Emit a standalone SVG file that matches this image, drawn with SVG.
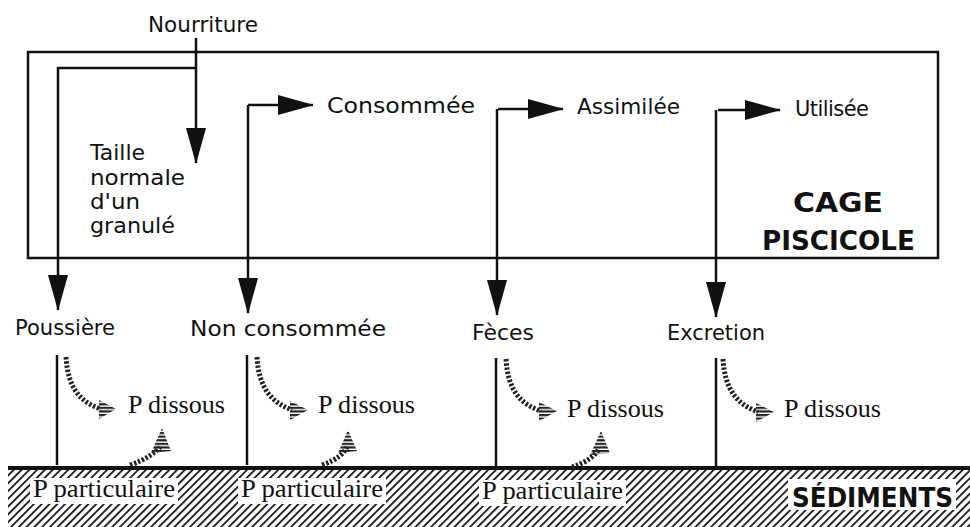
<svg xmlns="http://www.w3.org/2000/svg" width="970" height="527" viewBox="0 0 970 527">
<style>
.t{font-family:"DejaVu Sans","Liberation Sans",sans-serif;font-size:21px;fill:#111}
.b{font-family:"DejaVu Sans","Liberation Sans",sans-serif;font-weight:bold;font-size:26px;fill:#111}
.s{font-family:"Liberation Serif","Times New Roman",serif;font-size:25px;fill:#111}
.ln{stroke:#111;stroke-width:2.5;fill:none}
.ar{stroke:#111;stroke-width:2.5;fill:none;marker-end:url(#ah)}
.dl{stroke:#222;stroke-width:5;stroke-dasharray:2.4 1.8;fill:none}
.dh{fill:url(#stripes)}
</style>
<defs>
<marker id="ah" markerUnits="userSpaceOnUse" viewBox="0 0 36 20" refX="35" refY="10" markerWidth="36" markerHeight="20" orient="auto">
<path d="M0,0 L36,10 L0,20 z" fill="#111"/>
</marker>
<pattern id="stripes" patternUnits="userSpaceOnUse" width="10" height="3.6">
<rect x="0" y="0" width="10" height="2.2" fill="#222"/>
</pattern>
<pattern id="hatch" patternUnits="userSpaceOnUse" width="5.5" height="10" patternTransform="rotate(45)">
<rect x="0" y="0" width="1.9" height="10" fill="#222"/>
</pattern>
</defs>
<rect width="970" height="527" fill="#fff"/>

<g id="sediments">
<rect x="8" y="470" width="962" height="57" fill="url(#hatch)"/>
<line x1="8" y1="468" x2="970" y2="468" stroke="#111" stroke-width="4"/>
<rect x="30" y="478" width="148" height="26" fill="#fff"/>
<rect x="238" y="478" width="148" height="26" fill="#fff"/>
<rect x="479" y="480" width="147" height="26" fill="#fff"/>
<rect x="788" y="479" width="168" height="31" fill="#fff"/>
<text class="s" x="33" y="497" textLength="142" lengthAdjust="spacingAndGlyphs">P particulaire</text>
<text class="s" x="241" y="497" textLength="142" lengthAdjust="spacingAndGlyphs">P particulaire</text>
<text class="s" x="482" y="499" textLength="141" lengthAdjust="spacingAndGlyphs">P particulaire</text>
<text class="b" x="792" y="507" textLength="161" lengthAdjust="spacingAndGlyphs">SÉDIMENTS</text>
</g>

<g id="cage">
<rect x="28" y="52" width="910" height="206" fill="none" stroke="#111" stroke-width="2.5"/>
<text class="b" x="793" y="212" textLength="90" lengthAdjust="spacingAndGlyphs">CAGE</text>
<text class="b" x="762" y="250" textLength="153" lengthAdjust="spacingAndGlyphs">PISCICOLE</text>
</g>

<g id="nourriture"><text class="t" x="148" y="32" textLength="110" lengthAdjust="spacingAndGlyphs">Nourriture</text></g>
<g id="taille">
<text class="t" x="90" y="160" textLength="55" lengthAdjust="spacingAndGlyphs">Taille</text>
<text class="t" x="90" y="185" textLength="95" lengthAdjust="spacingAndGlyphs">normale</text>
<text class="t" x="90" y="209" textLength="50" lengthAdjust="spacingAndGlyphs">d'un</text>
<text class="t" x="90" y="233" textLength="85" lengthAdjust="spacingAndGlyphs">granulé</text>
</g>
<g id="consommee"><text class="t" x="327" y="113" textLength="148" lengthAdjust="spacingAndGlyphs">Consommée</text></g>
<g id="assimilee"><text class="t" x="577" y="114" textLength="103" lengthAdjust="spacingAndGlyphs">Assimilée</text></g>
<g id="utilisee"><text class="t" x="795" y="116" textLength="74" lengthAdjust="spacing">Utilisée</text></g>
<g id="poussiere"><text class="t" x="15" y="335" textLength="100" lengthAdjust="spacingAndGlyphs">Poussière</text></g>
<g id="nonconsommee"><text class="t" x="190" y="336" textLength="196" lengthAdjust="spacingAndGlyphs">Non consommée</text></g>
<g id="feces"><text class="t" x="472" y="340" textLength="62" lengthAdjust="spacingAndGlyphs">Fèces</text></g>
<g id="excretion"><text class="t" x="667" y="340" textLength="98" lengthAdjust="spacingAndGlyphs">Excretion</text></g>
<g id="pdissous">
<text class="s" x="128" y="413" textLength="97" lengthAdjust="spacingAndGlyphs">P dissous</text>
<text class="s" x="318" y="413" textLength="97" lengthAdjust="spacingAndGlyphs">P dissous</text>
<text class="s" x="567" y="417" textLength="97" lengthAdjust="spacingAndGlyphs">P dissous</text>
<text class="s" x="784" y="417" textLength="97" lengthAdjust="spacingAndGlyphs">P dissous</text>
</g>

<g id="connectors">
<path class="ar" d="M196,38 V163"/>
<path class="ar" d="M196,68 H58 V310"/>
<path class="ar" d="M248,105 H313"/>
<path class="ar" d="M248,105 V313"/>
<path class="ar" d="M498,109 H563"/>
<path class="ar" d="M497,109 V315"/>
<path class="ar" d="M718,110 H780"/>
<path class="ar" d="M716,110 V317"/>
<path class="ln" d="M57,355 V465"/>
<path class="ln" d="M247,355 V465"/>
<path class="ln" d="M496,358 V467"/>
<path class="ln" d="M716,358 V467"/>
<path class="dl" d="M66,357 C68,388 80,402 101,409"/>
<polygon class="dh" points="99,400 116,409 99,419"/>
<path class="dl" d="M257,357 C259,388 271,402 292,410"/>
<polygon class="dh" points="290,401 308,410 290,420"/>
<path class="dl" d="M506,359 C508,390 520,404 541,411"/>
<polygon class="dh" points="539,402 557,411 539,421"/>
<path class="dl" d="M723,359 C725,390 737,404 758,412"/>
<polygon class="dh" points="756,403 774,412 756,422"/>
<path class="dl" d="M130,465 C145,460 155,453 160,447"/>
<polygon class="dh" points="151,453 162,428 171,451"/>
<path class="dl" d="M322,465 C337,460 344,453 347,447"/>
<polygon class="dh" points="338,453 348,430 357,451"/>
<path class="dl" d="M572,467 C588,462 595,455 599,449"/>
<polygon class="dh" points="590,455 601,431 610,453"/>
</g>
</svg>
